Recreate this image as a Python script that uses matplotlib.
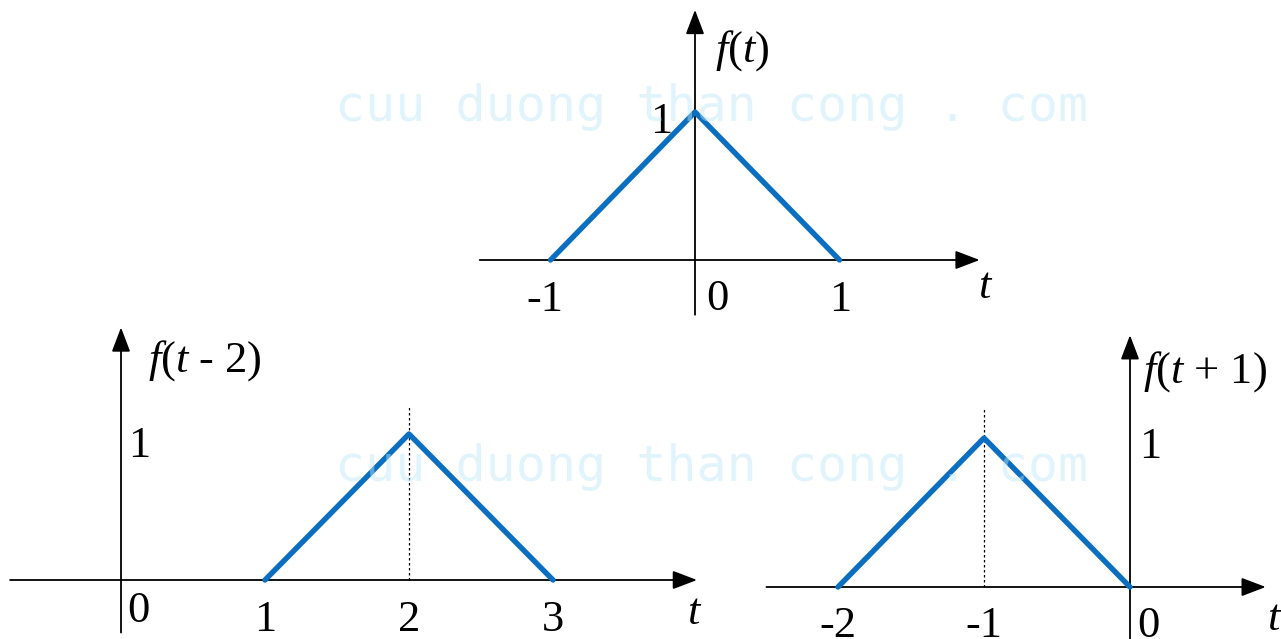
import matplotlib
matplotlib.use("Agg")
import matplotlib.pyplot as plt

# constants for the picture
W, H = 1281, 639
plt.rcParams["font.family"] = ["Liberation Serif", "DejaVu Serif"]
plt.rcParams["mathtext.fontset"] = "custom"
plt.rcParams["mathtext.rm"] = "Liberation Serif"
plt.rcParams["mathtext.it"] = "Liberation Serif:italic"

# data: triangle pulse and its shifted copies
t_orig = [-1, 0, 1]
f_orig = [0, 1, 0]
t_delay = [1, 2, 3]
f_delay = [0, 1, 0]
t_adv = [-2, -1, 0]
f_adv = [0, 1, 0]

ticks_orig = [-1, 0, 1]
ticks_delay = [0, 1, 2, 3]
ticks_adv = [-2, -1, 0]

LINE = "#0b6fc1"
FS = 32

fig = plt.figure(figsize=(W / 100, H / 100), dpi=100)


def make_panel(box, origin, unit):
    # box in pixels (left, top, right, bottom), origin pixel of (0, 0), pixels per unit
    x0, y0, x1, y1 = box
    ox, oy = origin
    ux, uy = unit
    ax = fig.add_axes([x0 / W, 1 - y1 / H, (x1 - x0) / W, (y1 - y0) / H])
    ax.set_xlim((x0 - ox) / ux, (x1 - ox) / ux)
    ax.set_ylim((oy - y1) / uy, (oy - y0) / uy)
    ax.axis("off")
    return ax


def draw_axes(ax, xr, yr):
    arrow = dict(arrowstyle="-|>,head_length=1.0,head_width=0.38", color="black",
                 lw=1.3, mutation_scale=15, shrinkA=0, shrinkB=0)
    ax.annotate("", xy=(xr[1], 0), xytext=(xr[0], 0), arrowprops=arrow,
                annotation_clip=False)
    ax.annotate("", xy=(0, yr[1]), xytext=(0, yr[0]), arrowprops=arrow,
                annotation_clip=False)


def label(ax, txt, xy, dx, dy, ha="center"):
    ax.annotate(txt, xy, xytext=(dx, dy), textcoords="offset pixels",
                ha=ha, va="baseline", fontsize=FS, annotation_clip=False)


# top panel: f(t)
ax1 = make_panel((460, 0, 1010, 320), (695, 260), (144.5, 148))
draw_axes(ax1, (-1.49, 1.97), (-0.37, 1.69))
ax1.plot(t_orig, f_orig, color=LINE, lw=3.9, solid_capstyle="round", zorder=3)
label(ax1, "-1", (ticks_orig[0], 0), -6, -51)
label(ax1, "0", (ticks_orig[1], 0), 22, -50)
label(ax1, "1", (ticks_orig[2], 0), 1, -51)
label(ax1, "1", (0, 1), -34, -21)
label(ax1, r"$f$($t$)", (0, 0), 20, 198, ha="left")
label(ax1, r"$t$", (0, 0), 291, -38)

# bottom left: f(t - 2)
ax2 = make_panel((0, 320, 720, 639), (121, 580), (144, 146))
draw_axes(ax2, (-0.77, 4.0), (-0.36, 1.73))
ax2.plot(t_delay, f_delay, color=LINE, lw=3.9, solid_capstyle="round", zorder=3)
ax2.vlines(t_delay[1], 0, 1.2, colors="black", linestyles=(0, (2, 2)), lw=0.9)
label(ax2, "0", (ticks_delay[0], 0), 17, -42)
for tk in ticks_delay[1:]:
    label(ax2, str(tk), (tk, 0), 0, -51)
label(ax2, "1", (0, 1), 18, -23)
label(ax2, r"$f$($t$ - 2)", (0, 0), 27, 208, ha="left")
label(ax2, r"$t$", (0, 0), 574, -44)

# bottom right: f(t + 1)
ax3 = make_panel((750, 320, 1281, 639), (1130, 587), (146, 149))
draw_axes(ax3, (-2.49, 0.93), (-0.36, 1.69))
ax3.plot(t_adv, f_adv, color=LINE, lw=3.9, solid_capstyle="round", zorder=3)
ax3.vlines(t_adv[1], 0, 1.2, colors="black", linestyles=(0, (2, 2)), lw=0.9)
label(ax3, "-2", (ticks_adv[0], 0), 0, -50)
label(ax3, "-1", (ticks_adv[1], 0), 0, -50)
label(ax3, "0", (ticks_adv[2], 0), 18, -50)
label(ax3, "1", (0, 1), 20, -20)
label(ax3, r"$f$($t$ + $\mathit{1}$)", (0, 0), 13, 204, ha="left")
label(ax3, r"$t$", (0, 0), 145, -43)

# watermark
for yy in (107, 467):
    fig.text(712 / W, 1 - yy / H, "cuu duong than cong . com", ha="center", va="center",
             family="DejaVu Sans Mono", fontsize=36, color="#bfe8f8", alpha=0.45, zorder=10)

fig.savefig("out.png", dpi=100)
